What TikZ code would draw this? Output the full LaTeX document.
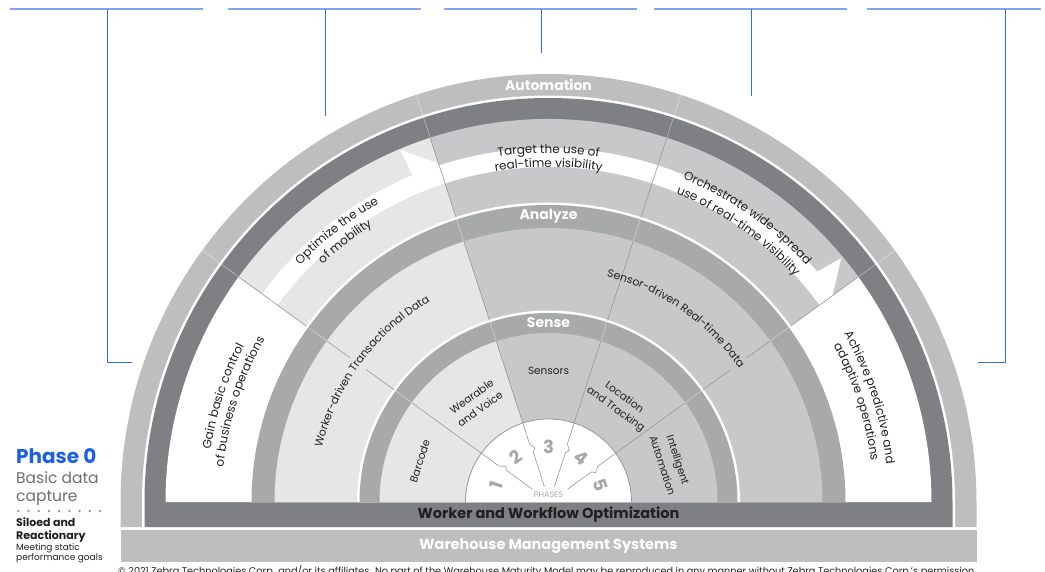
\documentclass[tikz,border=0pt]{standalone}
\usepackage{fontspec}
\setmainfont{Poppins}
\usetikzlibrary{decorations.text}
\definecolor{ringlight}{HTML}{BEBEBF}
\definecolor{ringdark}{HTML}{7F8083}
\definecolor{ringmid}{HTML}{A8A9AB}
\definecolor{fillE}{HTML}{E6E6E7}
\definecolor{fillC}{HTML}{C8C8CA}
\definecolor{divline}{HTML}{98989A}
\definecolor{phaseblue}{HTML}{1C5FE5}
\definecolor{barblue}{HTML}{80A8F0}
\definecolor{lineblue}{HTML}{2E6FE8}
\definecolor{txtdark}{HTML}{231F20}
\definecolor{txtgrey}{HTML}{6D6E71}
\definecolor{numgrey}{HTML}{A7A7A9}
\definecolor{dotgrey}{HTML}{9A9A9C}

\newcommand{\pieslice}[4]{\fill[#1] (0,0) -- (#2:#4pt) arc[start angle=#2, end angle=#3, radius=#4pt] -- cycle;}
\newcommand{\halfdisc}[2]{\fill[#1] (-#2,0) arc[start angle=180, end angle=0, radius=#2pt] -- cycle;}
\newcommand{\arctext}[5]{\path[decorate, decoration={text along path, text align=center, text={|\fontsize{#4}{#4}\selectfont\color{txtdark}|#5}}] ({#1+34}:#3pt) arc[start angle={#1+34}, end angle={#1-34}, radius=#3pt];}

\begin{document}
\begin{tikzpicture}[x=1pt,y=1pt,
  divl/.style={draw=divline, line width=0.6pt},
  ringl/.style={draw=white, draw opacity=0.45, line width=0.6pt},
  bandlbl/.style={font=\fontsize{14}{14}\selectfont\bfseries, text=white, inner sep=0pt},
  barlbl/.style={font=\fontsize{14.5}{14.5}\selectfont\bfseries, inner sep=0pt},
  seclbl/.style={font=\fontsize{10.5}{11}\selectfont, text=txtdark, inner sep=0pt},
  numlbl/.style={font=\fontsize{18}{18}\selectfont\bfseries, text=numgrey, inner sep=0pt},
  barline/.style={draw=barblue, line width=2.2pt},
  brline/.style={draw=lineblue, line width=0.9pt},
  side/.style={anchor=base west, inner sep=0pt}]

\useasboundingbox (0,0) rectangle (1045,571);
\clip (0,0) rectangle (1045,571);

\begin{scope}[shift={(548.5,69)}]
  % outer rings and bars
  \fill[ringlight] (-428,0) arc[start angle=180,end angle=0,radius=428pt] -- (428,-25) -- (-428,-25) -- cycle;
  \fill[white] (-406.5,0) arc[start angle=180,end angle=0,radius=406.5pt] -- (406.5,-25) -- (-406.5,-25) -- cycle;
  \fill[ringdark] (-404,0) arc[start angle=180,end angle=0,radius=404pt] -- (404,-25) -- (-404,-25) -- cycle;
  \fill[ringlight] (-428,-28) rectangle (428,-60);
  % phase band
  \pieslice{white}{144}{180}{383}
  \pieslice{fillE}{108}{144}{383}
  \pieslice{fillC}{36}{108}{383}
  \pieslice{white}{0}{36}{383}
  % white progress arrow
  \fill[white] (144:335pt) arc[start angle=144, end angle=36, radius=335pt] -- (36:351pt) -- (39.8:381pt) -- (40.6:354pt) arc[start angle=40.6, end angle=144, radius=354pt] -- cycle;
  \fill[white] (112.6:353pt) -- (112.8:382pt) -- (108:356pt) -- (108:353pt) -- cycle;
  % analyze ring and band
  \halfdisc{white}{299.5}
  \halfdisc{ringmid}{297}
  \pieslice{fillE}{108}{180}{274}
  \pieslice{fillC}{0}{108}{274}
  % sense ring and sectors
  \halfdisc{white}{191.5}
  \halfdisc{ringmid}{189}
  \pieslice{fillE}{108}{180}{169}
  \pieslice{fillC}{0}{108}{169}
  % radial dividers
  \foreach \a in {72,108} {
    \draw[divl] (\a:83pt) -- (\a:169pt);
    \draw[ringl] (\a:169pt) -- (\a:189pt);
    \draw[divl] (\a:191pt) -- (\a:274pt);
    \draw[ringl] (\a:274pt) -- (\a:297pt);
    \draw[divl] (\a:299pt) -- (\a:383pt);
    \draw[ringl] (\a:383pt) -- (\a:428pt);
  }
  \foreach \a in {36,144} {
    \draw[divl] (\a:83pt) -- (\a:169pt);
    \draw[ringl] (\a:169pt) -- (\a:189pt);
    \draw[divl] (\a:191pt) -- (\a:225pt);
    \draw[divl] (\a:245pt) -- (\a:274pt);
    \draw[ringl] (\a:274pt) -- (\a:297pt);
    \draw[divl] (\a:299pt) -- (\a:383pt);
    \draw[ringl] (\a:383pt) -- (\a:428pt);
  }
  % centre
  \fill[white] (-83,0) arc[start angle=180,end angle=0,radius=83pt] -- cycle;
  \draw[divline, line width=0.8pt] (-83,0) arc[start angle=180,end angle=0,radius=83pt];
  \foreach \a in {36,72,108,144}
    \draw[divl] (\a:83pt) -- (\a:61pt) -- ({\a-4}:55.5pt) -- ({\a-1}:52.5pt) -- ({\a-3}:16pt);
  \node[fill=white, inner xsep=5pt, inner ysep=3pt, font=\fontsize{8}{8}\selectfont, text=numgrey] (phases) at (0,7) {PHASES};
  \node[numlbl, rotate=72] (n1) at (162:55pt) {1};
  \node[numlbl, rotate=36] (n2) at (126:55pt) {2};
  \node[numlbl] (n3) at (90:55pt) {3};
  \node[numlbl, rotate=-36] (n4) at (54:55pt) {4};
  \node[numlbl, rotate=-72] (n5) at (18:55pt) {5};
  % ring labels
  \node[bandlbl] (lauto) at (0,417) {Automation};
  \node[bandlbl] (lanal) at (0,286) {Analyze};
  \node[bandlbl] (lsense) at (0,179) {Sense};
  \node[barlbl, text=txtdark] (lwork) at (0,-12.5) {Worker and Workflow Optimization};
  \node[barlbl, text=white] (lwms) at (0,-44) {Warehouse Management Systems};
  % sense sector labels
  \node[seclbl, rotate=72] (sbar) at (162.5:135pt) {Barcode};
  \node[seclbl, rotate=36] (swea) at (126:130.5pt) {Wearable};
  \node[seclbl, rotate=36] (swea2) at (126.4:115.5pt) {and Voice};
  \node[seclbl] (ssen) at (90:131pt) {Sensors};
  \node[seclbl, rotate=-36] (sloc) at (54:130pt) {Location};
  \node[seclbl, rotate=-36] (sloc2) at (54:114pt) {and Tracking};
  \node[seclbl, rotate=-72] (sint) at (18:135pt) {Intelligent};
  \node[seclbl, rotate=-72] (sint2) at (17.8:120pt) {Automation};
  % analyze band labels
  \arctext{143.5}{0}{233}{11}{Worker-driven Transactional Data}
  \arctext{55.3}{0}{233}{11}{Sensor-driven Real-time Data}
  % phase band labels
  \arctext{162}{0}{342}{12}{Gain basic control}
  \arctext{162}{0}{327}{12}{of business operations}
  \arctext{128}{0}{343}{12}{Optimize the use}
  \arctext{128}{0}{328}{12}{of mobility}
  \arctext{90}{0}{349}{12}{Target the use of}
  \arctext{90}{0}{335}{12}{real-time visibility}
  \arctext{55}{0}{350}{12}{Orchestrate wide-spread}
  \arctext{55}{0}{334}{12}{use of real-time visibility}
  \arctext{18}{0}{340}{12}{Achieve predictive and}
  \arctext{18}{0}{325}{12}{adaptive operations}
\end{scope}

% Phase 0 block
\node[side, font=\fontsize{20}{20}\selectfont\bfseries, text=phaseblue] (p0) at (16,107.7) {Phase 0};
\node[side, font=\fontsize{15.5}{15.5}\selectfont, text=txtgrey] (p0a) at (16,88) {Basic data};
\node[side, font=\fontsize{15.5}{15.5}\selectfont, text=txtgrey] (p0b) at (16,69.5) {capture};
\foreach \k in {0,...,8} \fill[dotgrey] ({18.3+10.2*\k},60) circle[radius=1.4pt];
\node[side, font=\fontsize{11}{11}\selectfont\bfseries, text=txtdark] (p0c) at (16,44.3) {Siloed and};
\node[side, font=\fontsize{11}{11}\selectfont\bfseries, text=txtdark] (p0d) at (16,31.7) {Reactionary};
\node[side, font=\fontsize{9}{9}\selectfont, text=txtdark] (p0e) at (16,21) {Meeting static};
\node[side, font=\fontsize{9}{9}\selectfont, text=txtdark] (p0f) at (16,11) {performance goals};

% copyright (cut by the lower edge)
\node[side, font=\fontsize{9.7}{9.7}\selectfont, text=txtdark] (copy) at (118,-3.5) {© 2021 Zebra Technologies Corp. and/or its affiliates. No part of the Warehouse Maturity Model may be reproduced in any manner without Zebra Technologies Corp.'s permission.};

% brackets at top
\coordinate (b1s) at (10,562);  \coordinate (b1e) at (203,562);
\coordinate (b2s) at (228,562); \coordinate (b2e) at (421,562);
\coordinate (b3s) at (444,562); \coordinate (b3e) at (637,562);
\coordinate (b4s) at (654,562); \coordinate (b4e) at (847,562);
\coordinate (b5s) at (867,562); \coordinate (b5e) at (1041,562);
\draw[barline] (b1s) -- (b1e);
\draw[barline] (b2s) -- (b2e);
\draw[barline] (b3s) -- (b3e);
\draw[barline] (b4s) -- (b4e);
\draw[barline] (b5s) -- (b5e);
\coordinate (v1t) at (107,562);  \coordinate (v1b) at (107,209); \coordinate (v1e) at (132,209);
\coordinate (v2t) at (325,562);  \coordinate (v2b) at (325,455);
\coordinate (v3t) at (541,562);  \coordinate (v3b) at (541,518);
\coordinate (v4t) at (751,562);  \coordinate (v4b) at (751,475);
\coordinate (v5t) at (1005,562); \coordinate (v5b) at (1005,209); \coordinate (v5e) at (978,209);
\draw[brline] (v1t) -- (v1b) -- (v1e);
\draw[brline] (v2t) -- (v2b);
\draw[brline] (v3t) -- (v3b);
\draw[brline] (v4t) -- (v4b);
\draw[brline] (v5t) -- (v5b) -- (v5e);
\end{tikzpicture}
\end{document}
